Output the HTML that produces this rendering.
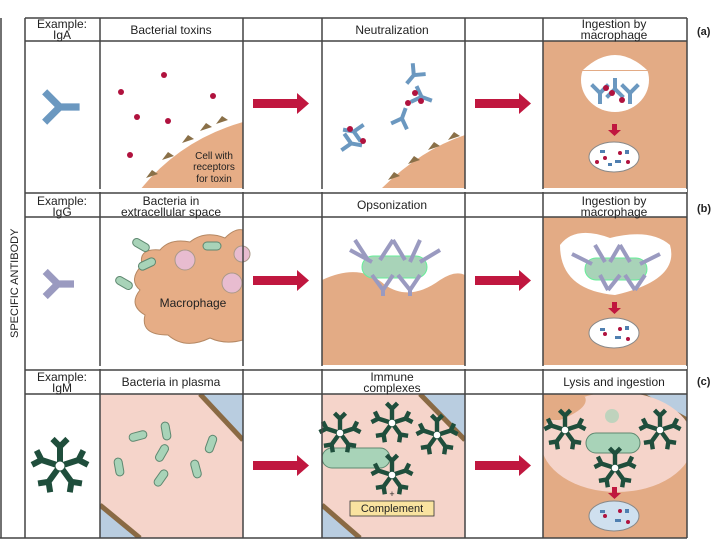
<!DOCTYPE html>
<html><head><meta charset="utf-8"><style>
html,body{margin:0;padding:0;background:#fff}
svg{display:block}
text{font-family:"Liberation Sans",sans-serif;fill:#222}
</style></head><body>
<svg width="720" height="540" viewBox="0 0 720 540" xmlns="http://www.w3.org/2000/svg">
<defs>
<g id="yb"><path d="M0,0 L0,-9 L-7,-16 M0,-9 L7,-16" stroke="#6b98c0" stroke-width="4" fill="none" stroke-linecap="square"/></g>
<g id="yg"><path d="M0,0 L0,-9 L-7,-16 M0,-9 L7,-16" stroke="#9a9ac0" stroke-width="4" fill="none"/></g>
<g id="star"><g stroke="#1f4e3c" stroke-width="4" fill="none">
<path d="M0,0 L0,-14 M-5,-18 L0,-13 L5,-18"/>
<path d="M0,0 L0,-14 M-5,-18 L0,-13 L5,-18" transform="rotate(72)"/>
<path d="M0,0 L0,-14 M-5,-18 L0,-13 L5,-18" transform="rotate(144)"/>
<path d="M0,0 L0,-14 M-5,-18 L0,-13 L5,-18" transform="rotate(216)"/>
<path d="M0,0 L0,-14 M-5,-18 L0,-13 L5,-18" transform="rotate(288)"/></g>
<circle r="3" fill="#fff"/></g>
<g id="arr"><rect x="0" y="-4" width="45" height="9" fill="#c0173f"/><path d="M44,-10 L56,0.5 L44,11 Z" fill="#c0173f"/></g>
<g id="bac"><rect x="-9" y="-4" width="18" height="8" rx="4" fill="#a8d3b8" stroke="#5e8870" stroke-width="1"/></g>
</defs>

<clipPath id="c2"><rect x="100" y="394" width="143" height="144"/></clipPath>
<g clip-path="url(#c2)">
<rect x="100" y="394" width="143" height="144" fill="#f5d4ca"/>
<path d="M200,394 L243,394 L243,440 Z" fill="#b9cde0"/><path d="M200,394 L243,440" stroke="#8a6a44" stroke-width="5"/>
<path d="M100,505 L100,538 L140,538 Z" fill="#b9cde0"/><path d="M100,505 L140,538" stroke="#8a6a44" stroke-width="5"/>
</g>
<clipPath id="c4"><rect x="322" y="394" width="143" height="144"/></clipPath>
<g clip-path="url(#c4)">
<rect x="322" y="394" width="143" height="144" fill="#f5d4ca"/>
<path d="M420,394 L465,394 L465,440 Z" fill="#b9cde0"/><path d="M420,394 L465,440" stroke="#8a6a44" stroke-width="5"/>
<path d="M322,505 L322,538 L360,538 Z" fill="#b9cde0"/><path d="M322,505 L360,538" stroke="#8a6a44" stroke-width="5"/>
</g>
<clipPath id="c6"><rect x="543" y="394" width="144" height="144"/></clipPath>
<g clip-path="url(#c6)">
<rect x="543" y="394" width="144" height="144" fill="#e3ab85"/>
<path d="M640,394 L687,394 L687,420 Z" fill="#b9cde0"/><path d="M640,394 L687,420" stroke="#8a6a44" stroke-width="5"/>
<ellipse cx="617" cy="442" rx="76" ry="50" fill="#f5d4ca"/>
<path d="M543,420 Q560,395 585,397 Q590,408 560,420 Z" fill="#e3ab85"/>
</g>

<clipPath id="c2a"><rect x="100" y="41" width="143" height="147"/></clipPath>
<g clip-path="url(#c2a)">
<path d="M140,190 Q180,140 243,122 L243,190 Z" fill="#e6ad86"/>
<g fill="#8a7048"><path d="M146,178 l6,-8 l6,4 z"/><path d="M162,160 l6,-8 l6,4 z"/><path d="M182,143 l6,-8 l6,4 z"/><path d="M200,131 l6,-8 l6,4 z"/><path d="M216,124 l6,-8 l6,4 z"/></g>
</g>
<text x="214" y="159" font-size="10" text-anchor="middle">Cell with</text>
<text x="214" y="170" font-size="10" text-anchor="middle">receptors</text>
<text x="214" y="182" font-size="10" text-anchor="middle">for toxin</text>
<g fill="#b0123e"><circle cx="164" cy="75" r="3"/><circle cx="121" cy="92" r="3"/><circle cx="213" cy="96" r="3"/><circle cx="137" cy="117" r="3"/><circle cx="168" cy="121" r="3"/><circle cx="130" cy="155" r="3"/></g>

<clipPath id="c4a"><rect x="322" y="41" width="143" height="147"/></clipPath>
<g clip-path="url(#c4a)">
<path d="M380,190 Q420,150 465,135 L465,190 Z" fill="#e6ad86"/>
<g fill="#8a7048"><path d="M388,180 l6,-8 l6,4 z"/><path d="M408,164 l6,-8 l6,4 z"/><path d="M428,150 l6,-8 l6,4 z"/><path d="M448,140 l6,-8 l6,4 z"/></g>
</g>
<g transform="translate(408,82) rotate(40)"><use href="#yb"/></g>
<g transform="translate(430,100) rotate(-70)"><use href="#yb"/></g>
<g transform="translate(405,110) rotate(200)"><use href="#yb"/></g>
<g transform="translate(345,130) rotate(100)"><use href="#yb"/></g>
<g transform="translate(360,145) rotate(-80)"><use href="#yb"/></g>
<g fill="#b0123e"><circle cx="415" cy="93" r="3"/><circle cx="408" cy="103" r="3"/><circle cx="421" cy="101" r="3"/><circle cx="350" cy="129" r="3"/><circle cx="363" cy="141" r="3"/></g>

<rect x="543" y="41" width="144" height="147" fill="#e3ab85"/>
<ellipse cx="615" cy="80" rx="34" ry="32" fill="#fff"/>
<rect x="582" y="41" width="66" height="30" fill="#e3ab85"/>
<path d="M583,70 Q615,40 647,70" fill="#fff"/>
<g transform="translate(600,102)"><use href="#yb"/></g>
<g transform="translate(630,102)"><use href="#yb"/></g>
<g transform="translate(615,80) rotate(180)"><use href="#yb"/></g>
<g fill="#b0123e"><circle cx="612" cy="93" r="3"/><circle cx="622" cy="100" r="3"/><circle cx="606" cy="88" r="3"/></g>
<rect x="612" y="124" width="5" height="6" fill="#c0173f"/><path d="M608,130 L621,130 L614.5,136 Z" fill="#c0173f"/>
<ellipse cx="614" cy="157" rx="25" ry="15" fill="#fff" stroke="#888"/>
<g fill="#4f7fb0"><rect x="600" y="150" width="5" height="3"/><rect x="615" y="160" width="6" height="3"/><rect x="608" y="163" width="4" height="3"/><rect x="625" y="150" width="4" height="4"/></g>
<g fill="#b0123e"><circle cx="605" cy="158" r="2"/><circle cx="620" cy="153" r="2"/><circle cx="628" cy="162" r="2"/><circle cx="597" cy="162" r="2"/></g>

<path d="M142,265 Q138,248 160,250 Q170,238 190,242 Q205,230 225,238 Q235,228 243,230 L243,340 Q225,345 210,338 Q185,350 168,335 Q140,335 145,315 Q128,305 140,290 Q128,280 142,265 Z" fill="#e6ad86" stroke="#b58863"/>
<circle cx="185" cy="260" r="10" fill="#e8bcd0" stroke="#a98"/>
<circle cx="232" cy="283" r="10" fill="#e8bcd0" stroke="#a98"/>
<circle cx="242" cy="254" r="8" fill="#e8bcd0" stroke="#a98"/>
<text x="193" y="307" font-size="12" text-anchor="middle">Macrophage</text>
<g transform="translate(141,245) rotate(30)"><use href="#bac"/></g>
<g transform="translate(212,246)"><use href="#bac"/></g>
<g transform="translate(147,264) rotate(-25)"><use href="#bac"/></g>
<g transform="translate(124,283) rotate(30)"><use href="#bac"/></g>

<path d="M322,280 Q360,262 385,285 Q410,302 440,280 Q455,270 465,275 L465,365 L322,365 Z" fill="#e3ab85"/>
<rect x="362" y="256" width="65" height="22" rx="11" fill="#a8d3b8" stroke="#6e9"/>
<g stroke="#9a9ac0" stroke-width="4" fill="none">
<path d="M350,250 L372,262 M355,240 L368,260 M393,240 L380,260 M393,240 L405,260 M420,240 L410,262 M440,250 L420,262 M372,275 L383,290 L383,296 M393,275 L383,290 M398,275 L410,290 L410,296 M420,275 L410,290"/>
</g>

<rect x="543" y="217" width="144" height="148" fill="#e3ab85"/>
<path d="M560,245 Q575,225 610,238 Q650,228 670,245 Q680,280 615,295 Q560,290 560,245 Z" fill="#fff"/>
<rect x="585" y="258" width="62" height="22" rx="11" fill="#a8d3b8" stroke="#6e9"/>
<g stroke="#9a9ac0" stroke-width="4" fill="none">
<path d="M572,254 L592,264 M595,245 L605,262 M620,245 L610,262 M620,245 L630,262 M660,254 L640,264 M600,275 L608,290 M620,275 L608,290 M625,275 L635,290 M645,275 L635,290"/>
</g>
<rect x="612" y="302" width="5" height="6" fill="#c0173f"/><path d="M608,308 L621,308 L614.5,314 Z" fill="#c0173f"/>
<ellipse cx="614" cy="333" rx="25" ry="15" fill="#fff" stroke="#888"/>
<g fill="#4f7fb0"><rect x="600" y="328" width="5" height="3"/><rect x="615" y="336" width="6" height="3"/><rect x="625" y="326" width="4" height="4"/></g>
<g fill="#b0123e"><circle cx="605" cy="334" r="2"/><circle cx="620" cy="329" r="2"/><circle cx="628" cy="339" r="2"/></g>

<g transform="translate(166,431) rotate(80)"><use href="#bac"/></g>
<g transform="translate(138,436) rotate(-15)"><use href="#bac"/></g>
<g transform="translate(162,453) rotate(-60)"><use href="#bac"/></g>
<g transform="translate(119,467) rotate(80)"><use href="#bac"/></g>
<g transform="translate(161,478) rotate(-55)"><use href="#bac"/></g>
<g transform="translate(196,469) rotate(75)"><use href="#bac"/></g>
<g transform="translate(211,444) rotate(-70)"><use href="#bac"/></g>

<rect x="322" y="448" width="68" height="20" rx="10" fill="#a8d3b8" stroke="#5e8870"/>
<g transform="translate(392,423) scale(1.1)"><use href="#star"/></g>
<g transform="translate(437,435) scale(1.1)"><use href="#star"/></g>
<g transform="translate(392,475) scale(1.1)"><use href="#star"/></g>
<g transform="translate(340,433) scale(1.1)"><use href="#star"/></g>
<text x="392" y="497" font-size="9" text-anchor="middle">+</text>
<rect x="350" y="501" width="84" height="15" fill="#f9e3a0" stroke="#333" stroke-width="0.8"/>
<text x="392" y="512" font-size="11" text-anchor="middle">Complement</text>

<rect x="586" y="433" width="54" height="20" rx="10" fill="#a8d3b8" stroke="#5e8870"/>
<circle cx="612" cy="416" r="7" fill="#a8d3b8" opacity="0.7"/>
<g transform="translate(565,430) scale(1.1)"><use href="#star"/></g>
<g transform="translate(660,430) scale(1.1)"><use href="#star"/></g>
<g transform="translate(615,468) scale(1.1)"><use href="#star"/></g>
<rect x="612" y="487" width="5" height="6" fill="#c0173f"/><path d="M608,493 L621,493 L614.5,499 Z" fill="#c0173f"/>
<ellipse cx="614" cy="516" rx="25" ry="15" fill="#cfe0ef" stroke="#888"/>
<g fill="#4f7fb0"><rect x="600" y="510" width="5" height="3"/><rect x="615" y="519" width="6" height="3"/><rect x="625" y="509" width="4" height="4"/></g>
<g fill="#b0123e"><circle cx="605" cy="516" r="2"/><circle cx="620" cy="511" r="2"/><circle cx="628" cy="522" r="2"/></g>

<g transform="translate(76,107) rotate(-90) scale(1.8)"><use href="#yb"/></g>
<g transform="translate(74,284) rotate(-90) scale(1.8)"><use href="#yg"/></g>
<g transform="translate(60,466) scale(1.5)"><use href="#star"/></g>

<use href="#arr" x="253" y="103"/>
<use href="#arr" x="475" y="103"/>
<use href="#arr" x="253" y="280"/>
<use href="#arr" x="475" y="280"/>
<use href="#arr" x="253" y="465"/>
<use href="#arr" x="475" y="465"/>

<g stroke="#444" stroke-width="1.5" fill="none">
<line x1="1" y1="18" x2="1" y2="538"/>
<line x1="25" y1="18" x2="25" y2="538"/>
<line x1="100" y1="18" x2="100" y2="538"/>
<line x1="243" y1="18" x2="243" y2="538"/>
<line x1="322" y1="18" x2="322" y2="538"/>
<line x1="465" y1="18" x2="465" y2="538"/>
<line x1="543" y1="18" x2="543" y2="538"/>
<line x1="687" y1="18" x2="687" y2="538"/>
<line x1="25" y1="18" x2="687" y2="18"/>
<line x1="25" y1="41" x2="687" y2="41"/>
<line x1="25" y1="193" x2="687" y2="193"/>
<line x1="25" y1="217" x2="687" y2="217"/>
<line x1="25" y1="370" x2="687" y2="370"/>
<line x1="25" y1="394" x2="687" y2="394"/>
<line x1="0" y1="538" x2="687" y2="538"/>
</g>
<rect x="26" y="189" width="661" height="3" fill="#fff"/>
<rect x="26" y="366" width="661" height="3" fill="#fff"/>

<g font-size="12" text-anchor="middle">
<text x="62" y="28">Example:</text><text x="62" y="39">IgA</text>
<text x="171" y="34">Bacterial toxins</text>
<text x="392" y="34">Neutralization</text>
<text x="614" y="28">Ingestion by</text><text x="614" y="39">macrophage</text>
<text x="62" y="205">Example:</text><text x="62" y="216">IgG</text>
<text x="171" y="205">Bacteria in</text><text x="171" y="216">extracellular space</text>
<text x="392" y="209">Opsonization</text>
<text x="614" y="205">Ingestion by</text><text x="614" y="216">macrophage</text>
<text x="62" y="381">Example:</text><text x="62" y="392">IgM</text>
<text x="171" y="386">Bacteria in plasma</text>
<text x="392" y="381">Immune</text><text x="392" y="392">complexes</text>
<text x="614" y="386">Lysis and ingestion</text>
</g>
<g font-size="11" font-weight="bold">
<text x="697" y="35">(a)</text><text x="697" y="212">(b)</text><text x="697" y="385">(c)</text>
</g>
<text transform="translate(18,338) rotate(-90)" font-size="11">SPECIFIC ANTIBODY</text>
</svg>
</body></html>
